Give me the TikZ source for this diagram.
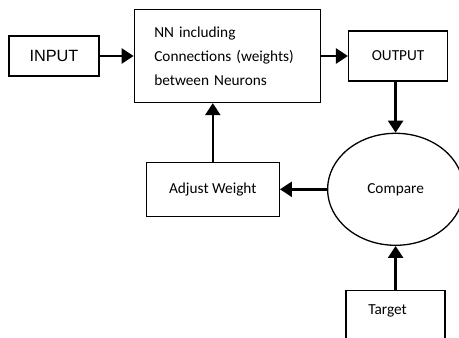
\documentclass[tikz,border=0pt]{standalone}
\usepackage{fontspec}
\setmainfont{Carlito}
\newfontfamily\arialfont{Liberation Sans}
\usepackage{tikz}
\usetikzlibrary{shapes.geometric,arrows.meta,positioning}

\begin{document}
\begin{tikzpicture}[
    x=1pt, y=1pt,
    node distance=30pt and 30pt,
    block/.style={rectangle, draw, line width=1.3pt, text centered, inner sep=0pt, font=\fontsize{15.3}{24}\selectfont},
    compareshape/.style={ellipse, draw, line width=1.3pt, inner sep=0pt, minimum width=136pt, minimum height=112pt, font=\fontsize{15.3}{24}\selectfont},
    arrow/.style={-{Triangle[length=12pt,width=15pt]}, line width=2.4pt}
]
\clip (0,0) rectangle (459,-338);

% Top row: input, network and output
\node[block, minimum width=90pt, minimum height=40pt, font=\arialfont\fontsize{16.3}{18}\selectfont] (input) at (54,-56) {INPUT};
\node[block, right=34pt of input, minimum width=186pt, minimum height=93pt, text width=146pt, align=left] (nn) {NN including\\Connections (weights)\\between Neurons};
\node[block, right=27pt of nn, minimum width=99pt, minimum height=50pt] (output) {OUTPUT};

% Middle row: comparison and weight update
\node[compareshape, below=51pt of output, xshift=-2.5pt] (compare) {Compare};
\node[block, left=47pt of compare, minimum width=133pt, minimum height=54pt] (adjust) {Adjust Weight};

% Bottom row: target
\node[block, below=44pt of compare, minimum width=99pt, minimum height=70pt, align=center] (target) {Target\hspace*{16pt}\\ \strut};

% Arrows - forward flow
\draw[arrow] (input) -- (nn);
\draw[arrow] (output.west -| nn.east) -- (output.west);
\draw[arrow] (compare.north |- output.south) -- (compare.north);

% Arrows - feedback
\draw[arrow] (target.north -| compare.south) -- (compare.south);
\draw[arrow] (compare.west) -- (compare.west -| adjust.east);
\draw[arrow] (adjust.north) -- (adjust.north |- nn.south);

\end{tikzpicture}
\end{document}
